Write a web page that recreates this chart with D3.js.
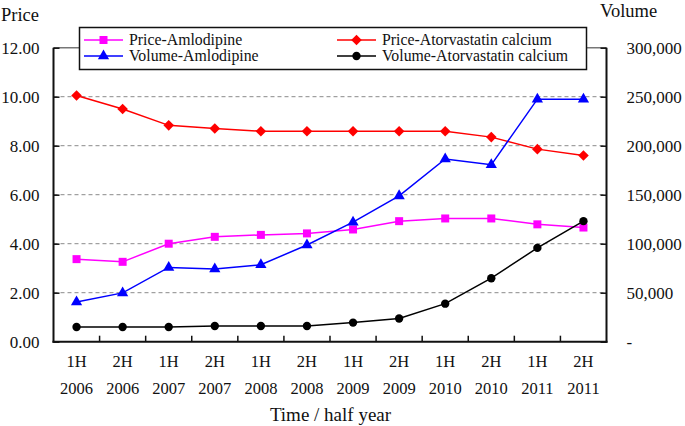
<!DOCTYPE html>
<html>
<head>
<meta charset="utf-8">
<script src="https://cdn.jsdelivr.net/npm/d3@7"></script>
<style>
  html, body { margin: 0; padding: 0; background: #fff; }
  svg { display: block; }
</style>
</head>
<body>
<svg id="chart" width="685" height="426"></svg>
<script>
// ---- data ----
const halves = ["1H","2H","1H","2H","1H","2H","1H","2H","1H","2H","1H","2H"];
const years  = ["2006","2006","2007","2007","2008","2008","2009","2009","2010","2010","2011","2011"];
const priceAmlodipine    = [3.37, 3.26, 4.00, 4.28, 4.36, 4.42, 4.58, 4.92, 5.03, 5.03, 4.79, 4.66];
const priceAtorvastatin  = [10.05, 9.50, 8.83, 8.70, 8.59, 8.59, 8.59, 8.59, 8.59, 8.35, 7.86, 7.60];
const volumeAmlodipine   = [40500, 49800, 75800, 74200, 78500, 98700, 122000, 148800, 186500, 180500, 247500, 247500];
const volumeAtorvastatin = [15000, 15000, 15000, 16000, 16000, 16000, 19500, 23700, 38800, 64800, 95700, 123000];
const priceTicks  = [0, 2, 4, 6, 8, 10, 12];
const volumeTicks = [0, 50000, 100000, 150000, 200000, 250000, 300000];

const FONT = "'Liberation Serif', 'Times New Roman', Times, 'DejaVu Serif', serif";

// ---- layout ----
const svg = d3.select("#chart");
const L = 53.5, R = 606.5, T = 47.7, B = 341.7;

const x = d3.scaleBand().domain(d3.range(halves.length)).range([L, R]).padding(0);
const yP = d3.scaleLinear().domain([0, 12]).range([B, T]);
const yV = d3.scaleLinear().domain([0, 300000]).range([B, T]);
const cx = i => x(i) + x.bandwidth() / 2;

// gridlines (dashed)
svg.append("g").selectAll("line")
  .data(priceTicks.filter(d => d > 0 && d < 12))
  .join("line")
  .attr("x1", L).attr("x2", R)
  .attr("y1", d => yP(d)).attr("y2", d => yP(d))
  .attr("stroke", "#8a8a8a").attr("stroke-width", 1)
  .attr("stroke-dasharray", "4,3");

// top border (gray)
svg.append("line").attr("x1", L).attr("x2", R).attr("y1", T).attr("y2", T)
  .attr("stroke", "#777").attr("stroke-width", 1.5);

// left axis
const leftAxis = d3.axisLeft(yP).tickValues(priceTicks).tickSize(-6).tickPadding(14)
  .tickFormat(d3.format(".2f"));
const gl = svg.append("g").attr("transform", `translate(${L},0)`).call(leftAxis);
gl.select(".domain").remove();
gl.selectAll(".tick line").attr("stroke", "#111").attr("stroke-width", 1.5);
gl.selectAll(".tick text").attr("dy", "0.36em").attr("class", "tk");

// right axis
const rightAxis = d3.axisRight(yV).tickValues(volumeTicks).tickSize(-6).tickPadding(20)
  .tickFormat(d => d === 0 ? "-" : d3.format(",")(d));
const gr = svg.append("g").attr("transform", `translate(${R},0)`).call(rightAxis);
gr.select(".domain").remove();
gr.selectAll(".tick line").attr("stroke", "#111").attr("stroke-width", 1.5);
gr.selectAll(".tick text").attr("dy", "0.36em").attr("class", "tk");

// bottom axis ticks (inward at band boundaries)
svg.append("g").selectAll("line")
  .data(d3.range(1, halves.length))
  .join("line")
  .attr("x1", i => x(i)).attr("x2", i => x(i))
  .attr("y1", B).attr("y2", B - 6)
  .attr("stroke", "#111").attr("stroke-width", 1.5);

// axis lines
svg.append("line").attr("x1", L).attr("x2", L).attr("y1", T).attr("y2", B + 1)
  .attr("stroke", "#111").attr("stroke-width", 2);
svg.append("line").attr("x1", R).attr("x2", R).attr("y1", T).attr("y2", B + 1)
  .attr("stroke", "#111").attr("stroke-width", 2);
svg.append("line").attr("x1", L - 1).attr("x2", R + 1).attr("y1", B).attr("y2", B)
  .attr("stroke", "#111").attr("stroke-width", 2);

// x labels
const xl = svg.append("g").selectAll("g").data(d3.range(halves.length)).join("g");
xl.append("text").attr("x", i => cx(i)).attr("y", 366.5).attr("text-anchor", "middle")
  .attr("class", "xl").text(i => halves[i]);
xl.append("text").attr("x", i => cx(i)).attr("y", 394).attr("text-anchor", "middle")
  .attr("class", "xl").text(i => years[i]);

// titles
svg.append("text").attr("x", 330.5).attr("y", 421).attr("text-anchor", "middle")
  .attr("class", "title").text("Time / half year");
svg.append("text").attr("x", 1).attr("y", 21).attr("class", "big").text("Price");
svg.append("text").attr("x", 600).attr("y", 16.5).attr("class", "big").text("Volume");

// series
const series = [
  { name: "Price-Amlodipine", values: priceAmlodipine, y: yP, color: "#ff00ff", sym: d3.symbolSquare, size: 64, rot: 0 },
  { name: "Price-Atorvastatin calcium", values: priceAtorvastatin, y: yP, color: "#ff0000", sym: d3.symbolSquare, size: 56, rot: 45 },
  { name: "Volume-Amlodipine", values: volumeAmlodipine, y: yV, color: "#0000ff", sym: d3.symbolTriangle, size: 55, rot: 0 },
  { name: "Volume-Atorvastatin calcium", values: volumeAtorvastatin, y: yV, color: "#000000", sym: d3.symbolCircle, size: 55, rot: 0 }
];

series.forEach(s => {
  const line = d3.line().x((d, i) => cx(i)).y(d => s.y(d));
  svg.append("path").datum(s.values).attr("d", line)
    .attr("fill", "none").attr("stroke", s.color).attr("stroke-width", 1.5);
  svg.append("g").selectAll("path").data(s.values).join("path")
    .attr("d", d3.symbol().type(s.sym).size(s.size))
    .attr("transform", (d, i) => `translate(${cx(i)},${s.y(d)}) rotate(${s.rot})`)
    .attr("fill", s.color);
});

// legend
const lg = svg.append("g");
lg.append("rect").attr("x", 79.5).attr("y", 27.5).attr("width", 507).attr("height", 42)
  .attr("fill", "#fff").attr("stroke", "#111").attr("stroke-width", 1.5);
const legendPos = [
  { s: series[0], x: 84, y: 40 },
  { s: series[2], x: 84, y: 56 },
  { s: series[1], x: 337, y: 40 },
  { s: series[3], x: 337, y: 56 }
];
legendPos.forEach(p => {
  lg.append("line").attr("x1", p.x).attr("x2", p.x + 39).attr("y1", p.y).attr("y2", p.y)
    .attr("stroke", p.s.color).attr("stroke-width", 1.5);
  lg.append("path").attr("d", d3.symbol().type(p.s.sym).size(p.s.size))
    .attr("transform", `translate(${p.x + 19.5},${p.y}) rotate(${p.s.rot})`)
    .attr("fill", p.s.color);
  lg.append("text").attr("x", p.x + 45).attr("y", p.y + 4.5).attr("class", "leg").text(p.s.name);
});

// fonts applied inline on every text
svg.selectAll("g").attr("font-family", null).attr("font-size", null);
svg.selectAll("text")
  .attr("font-family", null)
  .style("font-family", FONT)
  .style("font-size", "16px")
  .style("fill", "#111");
svg.selectAll("text.tk").style("font-size", "17px");
svg.selectAll("text.xl").style("font-size", "16.5px");
svg.selectAll("text.big").style("font-size", "18.5px");
svg.selectAll("text.title").style("font-size", "19px");
svg.selectAll("text.leg").style("font-size", "15.8px");
</script>
</body>
</html>
